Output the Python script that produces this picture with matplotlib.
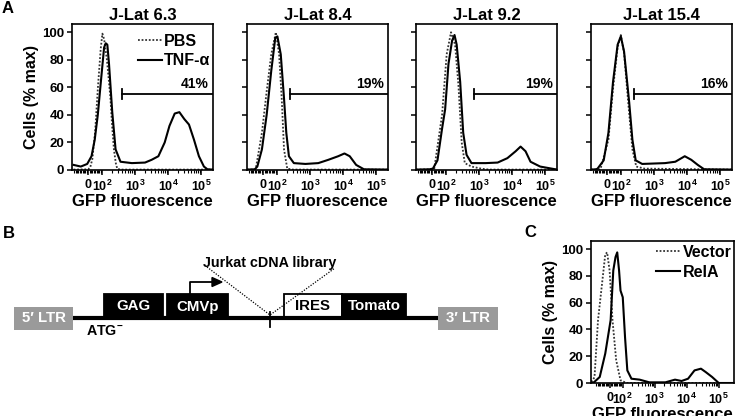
import numpy as np
import matplotlib.pyplot as plt
from matplotlib.lines import Line2D
from matplotlib.patches import Rectangle, Polygon

plt.rcParams['font.family'] = ['Liberation Sans', 'DejaVu Sans']
plt.rcParams['font.weight'] = 'bold'
plt.rcParams['axes.labelweight'] = 'bold'
plt.rcParams['axes.titleweight'] = 'bold'
plt.rcParams['mathtext.fontset'] = 'custom'
plt.rcParams['mathtext.rm'] = 'Liberation Sans:bold'
plt.rcParams['mathtext.it'] = 'Liberation Sans:bold'
plt.rcParams['mathtext.bf'] = 'Liberation Sans:bold'
plt.rcParams['axes.linewidth'] = 1.2

# ---- panel A: J-Lat clones, PBS vs TNF-alpha ----
titles = ['J-Lat 6.3', 'J-Lat 8.4', 'J-Lat 9.2', 'J-Lat 15.4']
gate_text = ['41%', '19%', '19%', '16%']
gate_start = [390, 246, 708, 246]
gate_y = 55

tnf63_x = [-105, -53, -7, 24, 47, 69, 91, 115, 129, 144, 162, 203, 256, 361, 800, 2000,
           3170, 5080, 7900, 11000, 15900, 22000, 31000, 43000, 61000, 86000, 122000, 156000, 230000]
tnf63_y = [3.7, 2.5, 4.4, 10, 22, 40, 64, 89, 92, 91, 77, 42, 15, 6, 5, 5.4,
           7.4, 10, 20, 32, 41, 42, 37, 33, 22, 10, 2.5, 0.5, 0.3]
pbs63_x = [-105, 0, 15, 30, 50, 70, 90, 102, 115, 140, 160, 179, 200, 228, 260, 287, 350, 230000]
pbs63_y = [0.3, 0.5, 2, 8, 28, 60, 88, 99, 95, 80, 65, 52, 33, 15, 5, 1, 0.3, 0.3]

tnf84_x = [-117, -60, -42, -9, 25, 58, 87, 102, 129, 162, 190, 228, 322, 720, 1770,
           3570, 7100, 11000, 15900, 24900, 43000, 230000]
tnf84_y = [0.3, 0.5, 2.5, 15, 40, 72, 96, 97, 84, 52, 27, 10, 5, 4.4, 5,
           7.4, 10, 12, 10, 3.7, 0.5, 0.3]
pbs84_x = [-117, -60, -53, -9, 25, 58, 91, 115, 138, 162, 203, 300, 230000]
pbs84_y = [0.3, 0.3, 1, 27, 57, 84, 100, 84, 52, 15, 1, 0.3, 0.3]

tnf92_x = [-117, -20, 5, 38, 71, 93, 118, 152, 180, 209, 267, 330, 417, 588, 1580,
           3650, 7200, 12800, 18100, 25600, 36200, 71000, 230000]
tnf92_y = [0.3, 0.5, 1, 7, 30, 44, 77, 94, 98, 91, 64, 27, 11, 5, 5,
           5.4, 8.6, 13.6, 17, 13.6, 6, 2.5, 0.3]
pbs92_x = [-117, 0, 15, 71, 104, 141, 187, 236, 297, 369, 588, 1150, 2000, 230000]
pbs92_y = [0.3, 0.5, 1, 40, 84, 100, 91, 62, 20, 5, 2.5, 1, 0.3, 0.3]

tnf154_x = [-117, -80, -69, -25, 9, 42, 75, 98, 123, 176, 220, 277, 435, 2150,
            4400, 8500, 13400, 21100, 33000, 230000]
tnf154_y = [0.3, 0.5, 1, 7, 27, 64, 91, 97, 86, 49, 22, 7, 4.4, 5,
            6, 10, 7.4, 3.7, 0.5, 0.3]
pbs154_x = [-117, -60, -47, 9, 42, 75, 98, 123, 167, 220, 288, 510, 230000]
pbs154_y = [0.3, 0.3, 1, 22, 59, 89, 98, 85, 47, 15, 2.5, 1, 0.3]

tnf_x = [tnf63_x, tnf84_x, tnf92_x, tnf154_x]
tnf_y = [tnf63_y, tnf84_y, tnf92_y, tnf154_y]
pbs_x = [pbs63_x, pbs84_x, pbs92_x, pbs154_x]
pbs_y = [pbs63_y, pbs84_y, pbs92_y, pbs154_y]

# ---- panel C: vector vs RelA ----
vec_x = [-148, -130, -115, -88, -61, -33, -19, 0, 22, 50, 83, 132, 300000]
vec_y = [1, 2, 4.5, 47, 71, 96, 97.5, 84, 47, 17, 2, 0, 0]
rela_x = [-148, -120, -75, -33, 8, 28, 45, 58, 72, 83, 100, 118, 139, 187, 337, 676,
          2150, 4300, 6900, 11000, 17500, 27800, 39000, 62000, 100000, 300000]
rela_y = [0.3, 0.5, 4.5, 22, 47, 84, 94, 97.5, 84, 69, 64, 34, 9.4, 3.2, 2.5, 0.5,
          0.5, 2.5, 1.5, 3.2, 9.4, 10.7, 8.2, 4.5, 0, 0]

# ---- panel B: vector map (diagram units) ----
box_names = ['GAG', 'CMVp', 'IRES', 'Tomato']
box_start = [104, 167, 284, 342]
box_end = [163, 228, 342, 406]
box_fill = ['black', 'black', 'white', 'black']
box_text = ['white', 'white', 'black', 'white']
ltr_names = ['5\u2032 LTR', '3\u2032 LTR']
ltr_start = [14, 438]
ltr_end = [73, 498]
insert_site = 270

xticks = [0, 1e2, 1e3, 1e4, 1e5]
xticklabels = ['0', '$10^2$', '$10^3$', '$10^4$', '$10^5$']
minor = list(range(-100, 101, 10)) + [m * 10 ** k for k in (2, 3, 4) for m in range(2, 10)]


def style_axis(ax, linscale, xmin, xmax, ymax):
    ax.set_xscale('symlog', linthresh=100, linscale=linscale)
    ax.set_xlim(xmin, xmax)
    ax.set_ylim(0, ymax)
    ax.set_xticks(xticks)
    ax.set_xticklabels(xticklabels)
    ax.set_xticks(minor, minor=True)
    ax.set_yticks(range(0, 101, 20))
    ax.tick_params(which='major', direction='out', length=3.5, width=1.1, labelsize=9.5, pad=2)
    ax.tick_params(which='major', axis='x', labelsize=9, pad=3)
    ax.tick_params(which='minor', axis='x', direction='out', length=2.5, width=0.8)
    ax.set_xlabel('GFP fluorescence', fontsize=12, labelpad=0)


def add_legend(ax, labels, top):
    ax.legend([Line2D([], [], color='#333333', lw=1.3, ls=(0, (1, 1))),
               Line2D([], [], color='black', lw=1.5)],
              labels, loc='upper right', bbox_to_anchor=(1.0, top), frameon=False,
              fontsize=11.5, handlelength=1.5, handletextpad=0.15,
              labelspacing=0.3, borderaxespad=0.0, borderpad=0.15)


fig = plt.figure(figsize=(7.4, 4.16), dpi=100)

lefts = [72, 247, 416, 591]
for i in range(4):
    ax = fig.add_axes([lefts[i] / 740, 246 / 416, 141 / 740, 146 / 416])
    ax.plot(pbs_x[i], pbs_y[i], color='#333333', lw=1.3, ls=(0, (1, 1)))
    ax.plot(tnf_x[i], tnf_y[i], color='black', lw=1.5)
    style_axis(ax, 0.38, -117, 230000, 106)
    ax.set_title(titles[i], fontsize=12, pad=3)
    ax.plot([gate_start[i], 230000], [gate_y, gate_y], color='black', lw=1.3)
    ax.plot([gate_start[i], gate_start[i]], [gate_y - 3.5, gate_y + 3.5], color='black', lw=1.3)
    ax.text(0.97, gate_y + 2, gate_text[i], transform=ax.get_yaxis_transform(),
            ha='right', va='bottom', fontsize=10)
    if i == 0:
        ax.set_ylabel('Cells (% max)', fontsize=11.5, labelpad=2)
        add_legend(ax, ['PBS', 'TNF-\u03b1'], 0.95)
    else:
        ax.set_yticklabels([])

axc = fig.add_axes([591 / 740, 33 / 416, 143 / 740, 142 / 416])
axc.plot(vec_x, vec_y, color='#333333', lw=1.3, ls=(0, (1, 1)))
axc.plot(rela_x, rela_y, color='black', lw=1.5)
style_axis(axc, 0.37, -148, 300000, 106)
axc.set_ylabel('Cells (% max)', fontsize=11.5, labelpad=2)
add_legend(axc, ['Vector', 'RelA'], 0.99)

# diagram axes in pixel-like units
axb = fig.add_axes([0, 0, 1, 1], zorder=-1)
axb.set_xlim(0, 740)
axb.set_ylim(416, 0)
axb.axis('off')
axb.plot([ltr_end[0], ltr_start[1]], [318, 318], color='black', lw=3, solid_capstyle='butt')
for name, s, e, fc, tc in zip(box_names, box_start, box_end, box_fill, box_text):
    axb.add_patch(Rectangle((s, 294), e - s, 24, facecolor=fc, edgecolor='black', lw=1.3))
    axb.text((s + e) / 2, 306.5, name, color=tc, ha='center', va='center', fontsize=10.8)
for name, s, e in zip(ltr_names, ltr_start, ltr_end):
    axb.add_patch(Rectangle((s, 307), e - s, 23, facecolor='#9a9a9a', edgecolor='none'))
    axb.text((s + e) / 2, 318.5, name, color='white', ha='center', va='center', fontsize=10.8)

# promoter arrow on CMVp
axb.plot([190, 190, 213], [294, 282, 282], color='black', lw=1.3)
axb.add_patch(Polygon([(212, 277.5), (222, 282), (212, 286.5)], closed=True, color='black'))

# insertion site
axb.plot([insert_site, insert_site], [312, 327], color='black', lw=1.3)
axb.plot([207, insert_site, 335], [267, 315, 268], color='black', lw=0.9, ls=(0, (1, 1.2)))
axb.text(insert_site, 267, 'Jurkat cDNA library', ha='center', va='baseline', fontsize=10.3)
axb.text(86, 335, 'ATG$^{-}$', ha='left', va='baseline', fontsize=10.3)

fig.text(2 / 740, 1 - 1 / 416, 'A', fontsize=12, va='top', ha='left')
fig.text(3 / 740, 1 - 226 / 416, 'B', fontsize=12, va='top', ha='left')
fig.text(524 / 740, 1 - 225 / 416, 'C', fontsize=12, va='top', ha='left')

fig.savefig('out.png', dpi=100)
